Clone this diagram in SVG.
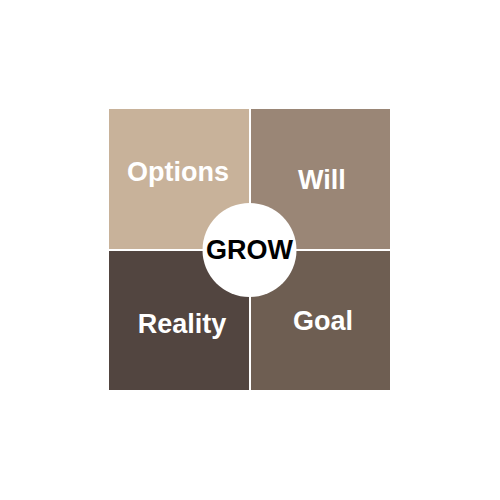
<svg xmlns="http://www.w3.org/2000/svg" width="500" height="500" viewBox="0 0 500 500">
<style>
.lbl{font-family:"Liberation Sans",Arial,sans-serif;font-weight:bold;font-size:27px;fill:#ffffff;text-anchor:middle}
.core{font-family:"Liberation Sans",Arial,sans-serif;font-weight:bold;font-size:27px;fill:#000000;text-anchor:middle}
</style>
<rect width="500" height="500" fill="#ffffff"/>
<g id="options"><rect x="109" y="109" width="140" height="140" fill="#c8b29a"/><text class="lbl" x="178" y="181">Options</text></g>
<g id="will"><rect x="251" y="109" width="139" height="140" fill="#9a8676"/><text class="lbl" x="322" y="189">Will</text></g>
<g id="reality"><rect x="109" y="251" width="140" height="139" fill="#524540"/><text class="lbl" x="182" y="333">Reality</text></g>
<g id="goal"><rect x="251" y="251" width="139" height="139" fill="#6e5e52"/><text class="lbl" x="323" y="330">Goal</text></g>
<g id="grow"><circle cx="249.5" cy="250" r="47" fill="#ffffff"/><text class="core" x="249.5" y="259">GROW</text></g>
<g id="connectors"/>
</svg>
